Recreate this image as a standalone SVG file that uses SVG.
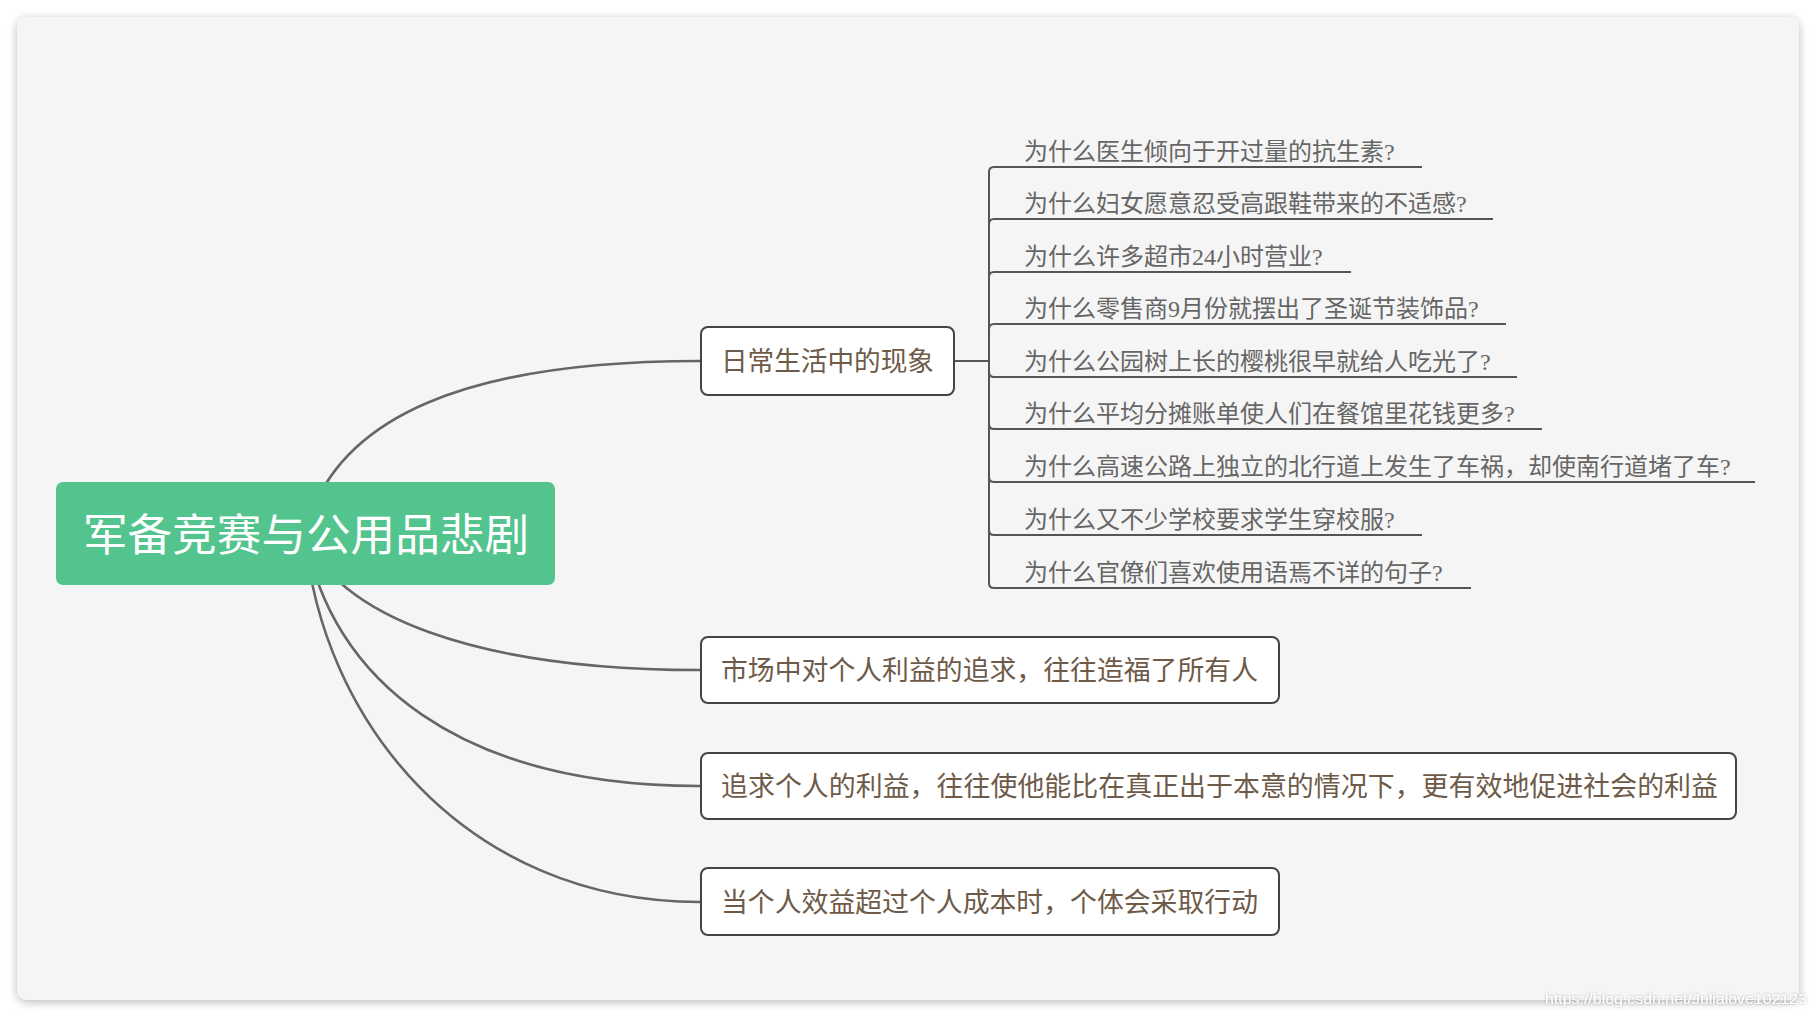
<svg xmlns="http://www.w3.org/2000/svg" width="1818" height="1018" viewBox="0 0 1818 1018">
<defs>
<filter id="shadow" x="-5%" y="-5%" width="110%" height="110%">
<feDropShadow dx="0" dy="2" stdDeviation="5" flood-color="#000" flood-opacity="0.28"/>
</filter>
<filter id="wm" x="-5%" y="-30%" width="110%" height="160%">
<feDropShadow dx="0" dy="0" stdDeviation="1.2" flood-color="#000" flood-opacity="0.35"/>
</filter>
<style>
.curve{fill:none;stroke:#666;stroke-width:2.6}
.br{fill:none;stroke:#555;stroke-width:2}
.box{fill:#fff;stroke:#444;stroke-width:2}
.t{font-family:"Liberation Serif","Noto Sans CJK SC",serif}
.bt{font-size:27px;fill:#6e5a48}
.ct{font-size:24px;fill:#666}
.rt{font-size:44px;fill:#fff}
</style>
</defs>
<rect x="0" y="0" width="1818" height="1018" fill="#fff"/>
<rect x="17" y="17" width="1782" height="983" rx="10" fill="#f5f5f5" filter="url(#shadow)"/>

<g id="connectors">
<path class="curve" d="M305 533 C335 415,470 361,700 361"/>
<path class="curve" d="M305 533 C335 615,475 670,700 670"/>
<path class="curve" d="M305 533 C330 680,460 786,700 786"/>
<path class="curve" d="M305 533 C320 720,465 902,700 902"/>
<path class="br" d="M954 361 L989 361"/>
<path class="br" d="M989 361 L989 172 Q989 167 994 167 L1422 167"/>
<path class="br" d="M989 361 L989 224 Q989 219 994 219 L1493 219"/>
<path class="br" d="M989 361 L989 277 Q989 272 994 272 L1351 272"/>
<path class="br" d="M989 361 L989 329 Q989 324 994 324 L1506 324"/>
<path class="br" d="M989 361 L989 372 Q989 377 994 377 L1517 377"/>
<path class="br" d="M989 361 L989 424 Q989 429 994 429 L1542 429"/>
<path class="br" d="M989 361 L989 477 Q989 482 994 482 L1755 482"/>
<path class="br" d="M989 361 L989 530 Q989 535 994 535 L1422 535"/>
<path class="br" d="M989 361 L989 583 Q989 588 994 588 L1471 588"/>
</g>

<g id="root">
<rect x="56" y="482" width="499" height="103" rx="7" fill="#54c48f"/>
<text class="t rt" x="83" y="551" textLength="446" lengthAdjust="spacingAndGlyphs">军备竞赛与公用品悲剧</text>
</g>

<g id="node-daily">
<rect class="box" x="701" y="327" width="253" height="68" rx="7"/>
<text class="t bt" x="721" y="371" textLength="213" lengthAdjust="spacingAndGlyphs">日常生活中的现象</text>
</g>

<g id="c1"><text class="t ct" x="1024" y="160">为什么医生倾向于开过量的抗生素?</text></g>
<g id="c2"><text class="t ct" x="1024" y="212">为什么妇女愿意忍受高跟鞋带来的不适感?</text></g>
<g id="c3"><text class="t ct" x="1024" y="265">为什么许多超市24小时营业?</text></g>
<g id="c4"><text class="t ct" x="1024" y="317">为什么零售商9月份就摆出了圣诞节装饰品?</text></g>
<g id="c5"><text class="t ct" x="1024" y="370">为什么公园树上长的樱桃很早就给人吃光了?</text></g>
<g id="c6"><text class="t ct" x="1024" y="422">为什么平均分摊账单使人们在餐馆里花钱更多?</text></g>
<g id="c7"><text class="t ct" x="1024" y="475">为什么高速公路上独立的北行道上发生了车祸，却使南行道堵了车?</text></g>
<g id="c8"><text class="t ct" x="1024" y="528">为什么又不少学校要求学生穿校服?</text></g>
<g id="c9"><text class="t ct" x="1024" y="581">为什么官僚们喜欢使用语焉不详的句子?</text></g>

<g id="node-market">
<rect class="box" x="701" y="637" width="578" height="66" rx="7"/>
<text class="t bt" x="721" y="680" textLength="537" lengthAdjust="spacingAndGlyphs">市场中对个人利益的追求，往往造福了所有人</text>
</g>

<g id="node-interest">
<rect class="box" x="701" y="753" width="1035" height="66" rx="7"/>
<text class="t bt" x="721" y="796" textLength="997" lengthAdjust="spacingAndGlyphs">追求个人的利益，往往使他能比在真正出于本意的情况下，更有效地促进社会的利益</text>
</g>

<g id="node-benefit">
<rect class="box" x="701" y="868" width="578" height="67" rx="7"/>
<text class="t bt" x="721" y="912" textLength="537" lengthAdjust="spacingAndGlyphs">当个人效益超过个人成本时，个体会采取行动</text>
</g>

<text x="1545" y="1004" font-family="Liberation Sans, Arial, sans-serif" font-size="15" fill="#fff" filter="url(#wm)" textLength="262" lengthAdjust="spacingAndGlyphs">https://blog.csdn.net/Julialove102123</text>
</svg>
